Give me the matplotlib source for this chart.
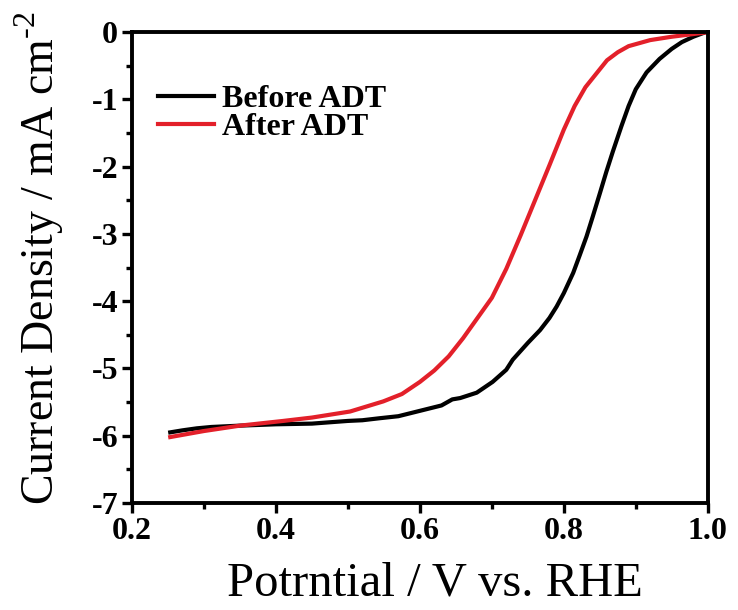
import matplotlib
matplotlib.use('Agg')
import matplotlib.pyplot as plt
from matplotlib.ticker import MultipleLocator

plt.rcParams['font.family'] = ['Liberation Serif', 'DejaVu Serif']
plt.rcParams['mathtext.fontset'] = 'custom'
plt.rcParams['mathtext.rm'] = 'Liberation Serif'

# 读图得到的数据 (V vs. RHE, mA cm^-2)
before_v = [0.253, 0.27, 0.29, 0.31, 0.35, 0.40, 0.45, 0.50, 0.52, 0.544, 0.57,
            0.60, 0.63, 0.645, 0.656, 0.679, 0.701, 0.72, 0.729, 0.75, 0.767,
            0.78, 0.79, 0.80, 0.813, 0.822, 0.8315, 0.84, 0.85, 0.859, 0.868,
            0.88, 0.89, 0.90, 0.915, 0.933, 0.95, 0.964, 0.98, 0.995]
before_j = [-5.95, -5.92, -5.89, -5.87, -5.85, -5.83, -5.82, -5.78, -5.77, -5.74, -5.71,
            -5.63, -5.55, -5.46, -5.44, -5.36, -5.20, -5.02, -4.87, -4.62, -4.43,
            -4.25, -4.08, -3.88, -3.58, -3.32, -3.04, -2.75, -2.40, -2.08, -1.78,
            -1.40, -1.10, -0.85, -0.60, -0.40, -0.25, -0.15, -0.07, -0.01]

after_v = [0.253, 0.30, 0.35, 0.41, 0.45, 0.503, 0.549, 0.575, 0.60, 0.62, 0.64,
           0.66, 0.68, 0.70, 0.72, 0.74, 0.76, 0.78, 0.80, 0.815, 0.83, 0.845,
           0.86, 0.875, 0.89, 0.92, 0.95, 0.995]
after_j = [-6.02, -5.93, -5.85, -5.78, -5.73, -5.64, -5.49, -5.38, -5.20, -5.03, -4.82,
           -4.55, -4.25, -3.95, -3.52, -3.02, -2.50, -1.98, -1.45, -1.10, -0.82, -0.62,
           -0.42, -0.30, -0.21, -0.12, -0.07, -0.01]

fig = plt.figure(figsize=(7.38, 6.10), dpi=100)
ax = fig.add_axes([0.179, 0.1754, 0.780, 0.7721])

ax.plot(before_v, before_j, color='black', lw=3, label='Before ADT')
ax.plot(after_v, after_j, color='#e3202a', lw=3, label='After ADT')

ax.set_xlim(0.2, 1.0)
ax.set_ylim(-7, 0)
ax.xaxis.set_minor_locator(MultipleLocator(0.1))
ax.yaxis.set_minor_locator(MultipleLocator(0.5))
ax.set_xticks([0.2, 0.4, 0.6, 0.8, 1.0])
ax.set_xticklabels(['0.2', '0.4', '0.6', '0.8', '1.0'])
ax.set_yticks(range(-7, 1))
ax.set_yticklabels(['-7', '-6', '-5', '-4', '-3', '-2', '-1', '0'])
for t in ax.get_xticklabels() + ax.get_yticklabels():
    t.set_fontweight('bold')

for s in ax.spines.values():
    s.set_linewidth(2.8)
ax.tick_params(which='major', direction='out', length=7, width=2.4, labelsize=23, pad=3)
ax.tick_params(which='minor', direction='out', length=4.5, width=2.4)

ax.set_xlabel('Potrntial / V vs. RHE', fontsize=35)
ax.xaxis.set_label_coords(0.526, -0.125)
ax.set_ylabel('Current Density / mA cm$^{\\text{-2}}$', fontsize=33)
ax.yaxis.set_label_coords(-0.115, 0.52)

leg = ax.legend(loc='upper left', bbox_to_anchor=(0.045, 0.888), frameon=False,
                prop={'size': 23, 'weight': 'bold'}, handlelength=1.75,
                handletextpad=0.25, labelspacing=-0.05, borderpad=0, borderaxespad=0)

fig.savefig('out.png', dpi=100)
